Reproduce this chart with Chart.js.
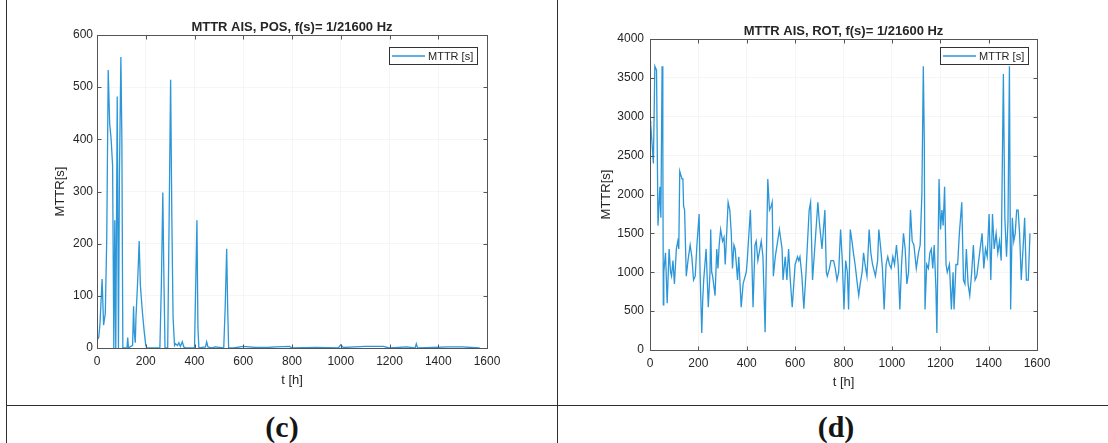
<!DOCTYPE html>
<html>
<head>
<meta charset="utf-8">
<script src="https://cdn.jsdelivr.net/npm/chart.js@4.4.0/dist/chart.umd.min.js"></script>
<style>
  html, body { margin: 0; padding: 0; background: #fff; }
  body { width: 1108px; height: 443px; position: relative; overflow: hidden; }
  canvas { position: absolute; top: 0; }
  #pos { left: 0; }
  #rot { left: 557px; }
  .rule { position: absolute; background: #2e2e2e; z-index: 2; }
  .tag {
    position: absolute; top: 412px; height: 30px;
    font-family: "Liberation Serif", "Times New Roman", serif;
    font-weight: bold; font-size: 30px; line-height: 30px;
    text-align: center; color: #151515;
  }
</style>
</head>
<body>
<canvas id="pos" width="556" height="400"></canvas>
<canvas id="rot" width="551" height="400"></canvas>
<div class="rule" style="left:6px;top:0;width:1px;height:443px"></div>
<div class="rule" style="left:557px;top:0;width:1px;height:443px"></div>
<div class="rule" style="left:6px;top:405px;width:1102px;height:1px"></div>
<div class="tag" style="left:7px;width:550px">(c)</div>
<div class="tag" style="left:558px;width:556px">(d)</div>
<script>
// axis ticks
const xTicks = [0, 200, 400, 600, 800, 1000, 1200, 1400, 1600];
const posTicks = [0, 100, 200, 300, 400, 500, 600];
const rotTicks = [0, 500, 1000, 1500, 2000, 2500, 3000, 3500, 4000];

// MTTR for position messages (hours, seconds)
const posHours = [0, 7, 12, 21, 27, 34, 40, 46, 52, 58, 64, 69, 73, 77, 83, 88, 92, 98, 102, 106,
  123, 126, 129, 146, 150, 153, 157, 160, 167, 173, 178, 186, 194, 200, 205,
  258, 264, 270, 274, 279, 290, 296, 302, 307, 312, 318, 322, 330, 336, 342, 350, 356, 365,
  400, 405, 410, 414, 418, 445, 450, 455, 470, 485, 520, 526, 532, 536, 540, 560,
  600, 650, 700, 735, 790, 800, 900, 990, 1000, 1010, 1060, 1100, 1175, 1200, 1270,
  1305, 1310, 1315, 1440, 1500, 1570];
const posMttr = [15, 20, 45, 132, 44, 66, 210, 533, 430, 400, 350, 0, 245, 0, 482, 0, 330, 558, 400, 0,
  0, 20, 0, 5, 80, 30, 10, 60, 130, 205, 120, 70, 30, 5, 0,
  0, 120, 298, 150, 0, 0, 250, 514, 250, 60, 5, 8, 5, 10, 3, 12, 2, 0,
  0, 120, 245, 40, 0, 2, 12, 2, 0, 2, 0, 80, 190, 80, 0, 0,
  3, 1, 1, 2, 3, 0, 1, 0, 6, 1, 2, 3, 3, 0, 2,
  0, 8, 0, 2, 2, 0];

// MTTR for rate-of-turn messages (hours, seconds)
const rotHours = [0, 3, 14, 20, 27, 33, 41, 45, 50, 53, 55, 57, 64, 71, 79, 85, 89, 95, 101, 109,
  115, 119, 123, 132, 136, 139, 143, 150, 157, 166, 173, 180, 187, 194, 203, 207, 214, 218, 222, 232,
  241, 248, 251, 255, 259, 269, 276, 281, 286, 292, 300, 306, 311, 323, 330, 336, 341, 347, 352, 362,
  367, 377, 385, 398, 402, 415, 420, 426, 434, 439, 446, 460, 467, 476, 480, 487, 494, 501, 505, 510,
  518, 535, 546, 550, 559, 566, 573, 580, 588, 600, 610, 615, 620, 628, 636, 645, 658, 664, 672, 682,
  694, 700, 711, 723, 729, 733, 742, 748, 759, 766, 773, 780, 788, 795, 802, 809, 816, 821, 828, 835,
  841, 848, 857, 863, 869, 877, 883, 889, 897, 906, 913, 920, 932, 941, 946, 954, 961, 968, 976, 983,
  990, 997, 1004, 1011, 1019, 1026, 1033, 1040, 1048, 1055, 1062, 1069, 1077, 1084, 1091, 1101, 1110, 1117, 1124, 1130,
  1134, 1137, 1144, 1151, 1157, 1163, 1169, 1175, 1182, 1186, 1195, 1201, 1207, 1212, 1218, 1224, 1229, 1238, 1246, 1253,
  1257, 1265, 1272, 1279, 1289, 1296, 1302, 1308, 1315, 1322, 1330, 1337, 1344, 1351, 1361, 1373, 1380, 1387, 1394, 1402,
  1409, 1416, 1423, 1431, 1438, 1445, 1452, 1461, 1467, 1474, 1480, 1486, 1491, 1498, 1504, 1510, 1516, 1522, 1528, 1535,
  1544, 1549, 1556, 1564, 1571];
const rotMttr = [2950, 2900, 2400, 3650, 3600, 1600, 2100, 1700, 3650, 2700, 580, 1000, 1250, 600, 1300, 1000, 950, 1150, 850, 1300,
  1400, 1300, 2300, 2200, 2200, 1850, 1800, 950, 1150, 1350, 1200, 900, 950, 1350, 1750, 1000, 220, 650, 900, 1300,
  550, 1000, 1550, 1000, 950, 700, 1300, 1050, 1350, 1550, 1400, 1450, 1100, 1900, 1800, 1500, 1050, 1350, 1300, 900,
  1200, 550, 850, 1000, 1150, 1800, 1300, 550, 1350, 1400, 1150, 1400, 1200, 230, 1000, 2200, 1800, 1850, 1900, 950,
  1200, 1550, 1300, 900, 1200, 900, 1300, 900, 550, 1100, 1200, 1150, 1200, 950, 530, 1000, 1800, 1900, 900, 1350,
  1900, 1650, 1300, 1800, 1000, 950, 1050, 1150, 1150, 1050, 900, 1000, 1550, 1150, 520, 1150, 1000, 520, 1550, 1400,
  1250, 1100, 850, 700, 850, 1000, 1250, 1100, 950, 1550, 1250, 1100, 950, 1150, 1550, 1300, 1050, 520, 1100, 1200,
  1100, 1050, 1200, 1100, 1350, 1100, 520, 1100, 1500, 1300, 850, 1000, 1800, 1400, 1350, 1050, 1250, 1350, 2000, 3650,
  2700, 520, 1100, 1050, 1250, 1300, 1050, 1350, 800, 220, 2200, 1550, 1800, 1600, 2100, 1100, 1000, 1100, 520, 1000,
  520, 1100, 1100, 1500, 1900, 900, 850, 1300, 850, 700, 1000, 1350, 900, 950, 1200, 1500, 1050, 1300, 1200, 1750,
  900, 1750, 1300, 1500, 1250, 1400, 1150, 3550, 1700, 1200, 1650, 3650, 520, 1700, 1400, 1500, 1800, 1800, 1500, 900,
  1400, 1700, 900, 900, 1500];

const lineBlue = '#2b96d8';
const axisGrey = '#555555';
const textDark = '#262626';
const sans = "'Liberation Sans', Arial, Helvetica, sans-serif";

// box around the axes with short ticks pointing inwards on every side
const boxTicks = {
  id: 'boxTicks',
  afterDatasetsDraw(chart) {
    const {ctx, chartArea: a, scales: {x, y}} = chart;
    const l = Math.round(a.left) + 0.5, r = Math.round(a.right) + 0.5;
    const t = Math.round(a.top) + 0.5, b = Math.round(a.bottom) + 0.5;
    const len = 4;
    ctx.save();
    ctx.strokeStyle = axisGrey;
    ctx.lineWidth = 1;
    ctx.beginPath();
    x.ticks.forEach(tk => {
      const px = Math.round(x.getPixelForValue(tk.value)) + 0.5;
      ctx.moveTo(px, b); ctx.lineTo(px, b - len);
      ctx.moveTo(px, t); ctx.lineTo(px, t + len);
    });
    y.ticks.forEach(tk => {
      const py = Math.round(y.getPixelForValue(tk.value)) + 0.5;
      ctx.moveTo(l, py); ctx.lineTo(l + len, py);
      ctx.moveTo(r, py); ctx.lineTo(r - len, py);
    });
    ctx.stroke();
    ctx.strokeRect(l, t, r - l, b - t);
    ctx.restore();
  }
};

// legend box in the top right corner of the axes
const boxLegend = {
  id: 'boxLegend',
  afterDatasetsDraw(chart, args, opts) {
    const {ctx, chartArea: a} = chart;
    const ds = chart.data.datasets[0];
    ctx.save();
    ctx.font = `11px ${sans}`;
    const tw = ctx.measureText(ds.label).width;
    const w = Math.round(3 + 33 + 3 + tw + 4), h = 17;
    const left = Math.round(a.right - opts.right - w), top = Math.round(a.top + opts.top);
    ctx.fillStyle = '#fff';
    ctx.fillRect(left, top, w, h);
    ctx.strokeStyle = '#333';
    ctx.lineWidth = 1;
    ctx.strokeRect(left + 0.5, top + 0.5, w, h);
    ctx.strokeStyle = ds.borderColor;
    ctx.lineWidth = ds.borderWidth;
    ctx.beginPath();
    ctx.moveTo(left + 3, top + h / 2 + 0.5);
    ctx.lineTo(left + 36, top + h / 2 + 0.5);
    ctx.stroke();
    ctx.fillStyle = textDark;
    ctx.textBaseline = 'middle';
    ctx.fillText(ds.label, left + 39, top + h / 2 + 1);
    ctx.restore();
  }
};

function drawPanel(id, title, hours, values, yTicks, yMax, lay) {
  const tickList = list => s => { s.ticks = list.map(v => ({value: v})); };
  new Chart(document.getElementById(id), {
    type: 'line',
    data: {
      datasets: [{
        label: 'MTTR [s]',
        data: hours.map((t, i) => ({x: t, y: values[i]})),
        borderColor: lineBlue,
        borderWidth: 1.3,
        pointRadius: 0,
        tension: 0,
        fill: false
      }]
    },
    options: {
      responsive: false,
      animation: false,
      layout: {padding: lay.pad},
      plugins: {
        legend: {display: false},
        tooltip: {enabled: false},
        title: {
          display: true, text: title, fullSize: false, color: textDark,
          font: {family: sans, size: 13, weight: 'bold'},
          padding: {top: lay.titleTop, bottom: 0}
        },
        boxLegend: lay.legend
      },
      scales: {
        x: {
          type: 'linear', min: 0, max: 1600,
          afterBuildTicks: tickList(xTicks),
          afterFit: s => { s.height = 40; },
          grid: {color: 'rgba(0,0,0,0.035)', drawTicks: false},
          border: {display: false},
          ticks: {color: textDark, font: {family: sans, size: 12}, padding: 6, maxRotation: 0, callback: v => String(v)},
          title: {display: true, text: 't [h]', color: textDark, font: {family: sans, size: 13}, padding: 0}
        },
        y: {
          type: 'linear', min: 0, max: yMax,
          afterBuildTicks: tickList(yTicks),
          afterFit: s => { s.width = lay.yWidth; },
          grid: {color: 'rgba(0,0,0,0.035)', drawTicks: false},
          border: {display: false},
          ticks: {color: textDark, font: {family: sans, size: 12}, padding: lay.yPad, callback: v => String(v)},
          title: {display: true, text: 'MTTR[s]', color: textDark, font: {family: sans, size: 13}, padding: 0}
        }
      }
    },
    plugins: [boxTicks, boxLegend]
  });
}

drawPanel('pos', 'MTTR AIS, POS, f(s)= 1/21600 Hz', posHours, posMttr, posTicks, 600, {
  pad: {left: 53, right: 69, top: 0, bottom: 12},
  titleTop: 19.4, yWidth: 44, yPad: 4,
  legend: {right: 10, top: 12}
});

drawPanel('rot', 'MTTR AIS, ROT, f(s)= 1/21600 Hz', rotHours, rotMttr, rotTicks, 4000, {
  pad: {left: 42, right: 71, top: 0, bottom: 10},
  titleTop: 23.4, yWidth: 51, yPad: 6,
  legend: {right: 9, top: 8}
});
</script>
</body>
</html>
